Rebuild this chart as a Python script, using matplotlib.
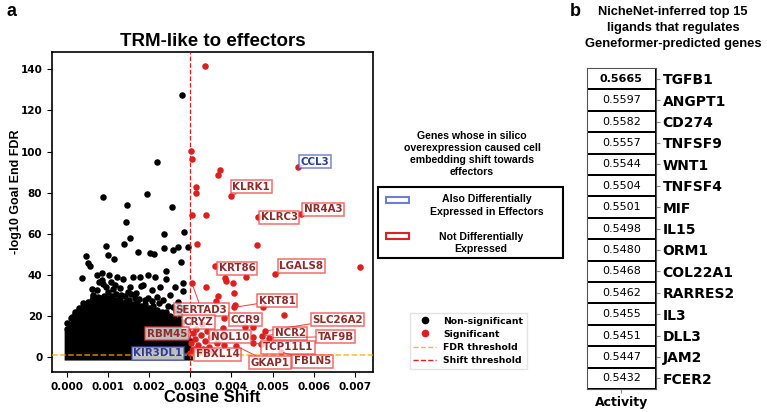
import numpy as np
import matplotlib.pyplot as plt
from matplotlib.patches import Rectangle
from matplotlib.lines import Line2D
from matplotlib.colors import ListedColormap
import seaborn as sns

# ---- panel a: in silico overexpression, TRM-like -> effectors ----
# sparse non-significant genes above the dense cloud
ns_x = [0.00280, 0.00220, 0.00087, 0.00145, 0.00194, 0.00256, 0.00144, 0.00236,
        0.00284, 0.00153, 0.00094, 0.00139, 0.00172, 0.00202, 0.00212, 0.00235,
        0.00257, 0.00271, 0.00295, 0.00100, 0.00115, 0.00278, 0.00241, 0.00085,
        0.00046, 0.00052, 0.00056, 0.00036, 0.00072, 0.00064, 0.00075, 0.00054,
        0.00076, 0.00044, 0.00011, 0.00000, 0.00283, 0.00283, 0.00103, 0.00121,
        0.00137, 0.00079, 0.00161, 0.00178, 0.00198, 0.00214, 0.00226, 0.00241,
        0.00263, 0.00072, 0.00096, 0.00153, 0.00186, 0.00206, 0.00250, 0.00234,
        0.00271, 0.00283, 0.00030, 0.00120, 0.00165, 0.00190, 0.00060, 0.00140,
        0.00088, 0.00108, 0.00128, 0.00148, 0.00168, 0.00218, 0.00064, 0.00112,
        0.00132, 0.00156, 0.00176, 0.00196, 0.00224, 0.00246, 0.00266, 0.00020,
        0.00040, 0.00084, 0.00100, 0.00116, 0.00180, 0.00208, 0.00258, 0.00276]
ns_y = [127.5, 95.1, 77.8, 74.0, 79.4, 73.2, 65.6, 59.9,
        60.8, 58.0, 54.3, 54.9, 51.3, 50.9, 50.4, 53.3,
        52.2, 53.5, 53.8, 49.6, 47.9, 46.5, 42.1, 40.8,
        49.2, 46.0, 44.5, 38.7, 39.9, 29.5, 29.5, 21.9,
        27.0, 24.6, 19.7, 16.5, 36.0, 32.2, 40.0, 39.2,
        37.9, 36.8, 39.2, 38.9, 40.0, 39.2, 34.0, 37.9,
        34.3, 32.7, 34.3, 34.3, 35.1, 32.7, 30.3, 27.9,
        27.0, 23.8, 24.0, 31.0, 29.0, 28.0, 33.0, 30.0,
        35.5, 36.5, 33.5, 32.0, 31.5, 29.5, 30.5, 33.0,
        30.5, 31.0, 28.5, 29.0, 26.5, 25.0, 22.5, 22.0,
        26.5, 37.5, 32.0, 35.0, 34.5, 27.5, 24.5, 20.5]

# top edge of the solid cloud of non-significant genes
cloud_x = [-0.00007, 0.0000, 0.0001, 0.0002, 0.0003, 0.0004, 0.0005, 0.0006, 0.0007,
           0.0008, 0.0009, 0.0010, 0.0011, 0.0012, 0.0013, 0.0014, 0.0015,
           0.0016, 0.0017, 0.0018, 0.0019, 0.0020, 0.0021, 0.0022, 0.0023,
           0.0024, 0.0025, 0.0026, 0.0027, 0.0028, 0.0029, 0.0030, 0.00305]
cloud_top = [13, 14, 19, 21, 23, 25, 27, 28, 27,
             29, 30, 29, 30, 28, 29, 27, 28,
             26, 27, 25, 26, 24, 25, 23, 22,
             22, 20, 19, 18, 17, 14, 8, 0]

# significant genes
sig_x = [0.00335, 0.00301, 0.00305, 0.00372, 0.00367, 0.00315, 0.00314, 0.00399,
         0.00563, 0.00304, 0.00338, 0.00465, 0.00569, 0.00317, 0.00463, 0.00361,
         0.00713, 0.00506, 0.00384, 0.00387, 0.00405, 0.00435, 0.00304, 0.00338,
         0.00406, 0.00367, 0.00363, 0.00409, 0.00406, 0.00476, 0.00527, 0.00383,
         0.00434, 0.00452, 0.00482, 0.00474, 0.00492, 0.00452, 0.00452, 0.00471,
         0.00410, 0.00520, 0.00364, 0.00380, 0.00383, 0.00383, 0.00306, 0.00312,
         0.00318, 0.00325, 0.00330, 0.00336, 0.00341, 0.00309, 0.00322, 0.00345,
         0.00315, 0.00350, 0.00302, 0.00328, 0.00340, 0.00355, 0.00360, 0.00300]
sig_y = [141.5, 100.1, 96.2, 91.1, 88.5, 82.9, 79.7, 78.4,
         92.7, 69.3, 69.0, 68.4, 69.8, 55.3, 54.6, 44.4,
         43.9, 40.3, 38.8, 37.2, 36.3, 38.9, 36.1, 34.3,
         31.4, 29.8, 27.5, 25.4, 24.3, 24.3, 20.4, 19.3,
         14.9, 14.9, 12.8, 10.5, 9.5, 10.0, 7.1, 6.5,
         5.7, 2.7, 6.8, 14.4, 10.8, 5.8, 12.0, 9.0,
         6.0, 11.0, 4.0, 8.0, 13.0, 4.0, 2.5, 5.0,
         14.0, 10.0, 7.0, 16.0, 3.0, 3.0, 12.0, 2.0]

# labelled genes: (gene, shift, -log10 FDR, also DE in effectors)
lab_gene = ['CCL3', 'KLRK1', 'NR4A3', 'KLRC3', 'KRT86', 'LGALS8', 'KRT81', 'SERTAD3',
            'CRYZ', 'CCR9', 'SLC26A2', 'RBM45', 'NOL10', 'NCR2', 'TAF9B', 'TCP11L1',
            'KIR3DL1', 'FBXL14', 'GKAP1', 'FBLN5']
lab_x = [0.00563, 0.00399, 0.00569, 0.00465, 0.00361, 0.00506, 0.00406, 0.00304,
         0.00312, 0.00383, 0.00482, 0.00306, 0.00364, 0.00474, 0.00492, 0.00452,
         0.00300, 0.00330, 0.00410, 0.00520]
lab_y = [92.7, 78.4, 69.8, 68.4, 44.4, 40.3, 24.3, 36.1,
         9.0, 19.3, 12.8, 12.0, 6.8, 10.5, 9.5, 7.1,
         2.0, 4.0, 5.7, 2.7]
lab_de = [True, False, False, False, False, False, False, False,
          False, False, False, False, False, False, False, False,
          True, False, False, False]

# ---- panel b: NicheNet ligand activity ----
ligands = ['TGFB1', 'ANGPT1', 'CD274', 'TNFSF9', 'WNT1', 'TNFSF4', 'MIF', 'IL15',
           'ORM1', 'COL22A1', 'RARRES2', 'IL3', 'DLL3', 'JAM2', 'FCER2']
activity = [0.5665, 0.5597, 0.5582, 0.5557, 0.5544, 0.5504, 0.5501, 0.5498,
            0.5480, 0.5468, 0.5462, 0.5455, 0.5451, 0.5447, 0.5432]

# label text positions (layout only)
label_pos = {
    'CCL3': (0.00603, 95.0), 'KLRK1': (0.00448, 83.0), 'NR4A3': (0.00623, 72.0),
    'KLRC3': (0.00516, 68.0), 'KRT86': (0.00414, 43.4), 'LGALS8': (0.00570, 44.4),
    'KRT81': (0.00511, 27.6), 'SERTAD3': (0.00327, 23.2), 'CRYZ': (0.00320, 17.2),
    'CCR9': (0.00434, 18.4), 'SLC26A2': (0.00658, 18.4), 'RBM45': (0.00243, 11.6),
    'NOL10': (0.00397, 10.1), 'NCR2': (0.00543, 11.8), 'TAF9B': (0.00654, 10.1),
    'TCP11L1': (0.00538, 5.0), 'KIR3DL1': (0.00221, 2.1), 'FBXL14': (0.00367, 1.6),
    'GKAP1': (0.00493, -2.5), 'FBLN5': (0.00597, -1.8),
}

RED = '#dd1f1f'
ARIAL = 'Liberation Sans'

fig = plt.figure(figsize=(7.67, 4.12), dpi=100)
ax = fig.add_axes([0.0678, 0.0971, 0.4185, 0.7767])

ax.fill_between(cloud_x, -1.3, cloud_top, color='black', lw=0, zorder=2)
ax.scatter(cloud_x[1:-1], cloud_top[1:-1], s=22, color='black', lw=0, zorder=2)
ax.scatter(ns_x, ns_y, s=22, color='black', lw=0, zorder=2)
ax.scatter(sig_x, sig_y, s=22, color=RED, lw=0, zorder=3)

ax.axhline(-np.log10(0.05), color='orange', ls='--', lw=1.1, alpha=0.8, zorder=4)
ax.axvline(0.003, color=RED, ls='--', lw=0.9, zorder=4)

for g, x, y, de in zip(lab_gene, lab_x, lab_y, lab_de):
    tx, ty = label_pos[g]
    tcol = '#2b3c9c' if de else '#8e2b2b'
    ecol = '#4a5cc8' if de else '#f03c3c'
    ax.annotate(g, xy=(x, y), xytext=(tx, ty), ha='center', va='center',
                fontsize=7.4, fontweight='bold', color=tcol, zorder=6,
                bbox=dict(boxstyle='square,pad=0.15', fc='white', alpha=0.75,
                          ec=ecol, lw=1.1),
                arrowprops=dict(arrowstyle='-', color=ecol, lw=0.7,
                                shrinkA=0, shrinkB=2))

ax.set_xlim(-0.000365, 0.007445)
ax.set_ylim(-7.1, 148.4)
ax.set_xticks(np.arange(0, 0.0071, 0.001))
ax.set_yticks(np.arange(0, 141, 20))
ax.tick_params(labelsize=7.5)
for t in ax.get_xticklabels() + ax.get_yticklabels():
    t.set_fontweight('bold')
for s in ax.spines.values():
    s.set_linewidth(1.2)
ax.set_title('TRM-like to effectors', fontsize=13.5, fontweight='bold', family=ARIAL, pad=4)
ax.set_xlabel('Cosine Shift', fontsize=12, fontweight='bold', family=ARIAL, labelpad=-1)
ax.set_ylabel('-log10 Goal End FDR', fontsize=9, fontweight='bold', family=ARIAL)
ax.yaxis.set_label_coords(-0.095, 0.5625)

# scatter legend
handles = [
    Line2D([], [], ls='', marker='o', color='black', markersize=4.5),
    Line2D([], [], ls='', marker='o', color=RED, markersize=4.5),
    Line2D([], [], ls='--', color='orange', alpha=0.8, lw=1),
    Line2D([], [], ls='--', color=RED, lw=1),
]
fig.legend(handles, ['Non-significant', 'Significant', 'FDR threshold', 'Shift threshold'],
           loc='upper left', bbox_to_anchor=(0.528, 0.252), frameon=True,
           prop=dict(size=6.7, weight='bold'), handlelength=2.4, borderpad=0.4,
           labelspacing=0.45, edgecolor='#dddddd', fancybox=False)

# label-colour legend (drawn by hand)
W, H = 767.0, 412.0
fig.text(472 / W, 1 - 154 / H, 'Genes whose in silico\noverexpression caused cell\n'
         'embedding shift towards\neffectors', ha='center', va='center',
         fontsize=7.6, fontweight='bold', family=ARIAL, linespacing=1.25)
fig.add_artist(Rectangle((378 / W, 1 - 258 / H), 185 / W, 71 / H, transform=fig.transFigure,
                         fc='white', ec='black', lw=1.5))
fig.add_artist(Rectangle((386 / W, 1 - 203 / H), 23 / W, 6 / H, transform=fig.transFigure,
                         fc='white', ec='#7080d0', lw=1.5))
fig.add_artist(Rectangle((386 / W, 1 - 239 / H), 23 / W, 6 / H, transform=fig.transFigure,
                         fc='white', ec='#e02020', lw=1.5))
fig.text(487 / W, 1 - 205.5 / H, 'Also Differentially\nExpressed in Effectors', ha='center',
         va='center', fontsize=7.6, fontweight='bold', family=ARIAL, linespacing=1.3)
fig.text(481 / W, 1 - 243 / H, 'Not Differentially\nExpressed', ha='center',
         va='center', fontsize=7.6, fontweight='bold', family=ARIAL, linespacing=1.3)

fig.text(6 / W, 1 - 12 / H, 'a', fontsize=13, fontweight='bold', family=ARIAL, va='center')
fig.text(570 / W, 1 - 12 / H, 'b', fontsize=13, fontweight='bold', family=ARIAL, va='center')

# ---- panel b ----
axb = fig.add_axes([0.7653, 0.0558, 0.0896, 0.779])
data = np.array(activity)[:, None]
sns.heatmap(data, ax=axb, cmap=ListedColormap(['white']), cbar=False, annot=True,
            fmt='.4f', linewidths=1.2, linecolor='black',
            annot_kws=dict(fontsize=8, color='black'),
            xticklabels=['Activity'], yticklabels=ligands)
for i, t in enumerate(axb.texts):
    t.set_fontweight('bold' if i == 0 else 'normal')
axb.yaxis.tick_right()
axb.tick_params(axis='y', labelsize=10, rotation=0, length=3, color='#888888', pad=2)
axb.tick_params(axis='x', labelsize=9, length=3, color='#888888', pad=2)
for t in axb.get_yticklabels() + axb.get_xticklabels():
    t.set_fontweight('bold')
for s in axb.spines.values():
    s.set_visible(True)
    s.set_color('#555555')
    s.set_linewidth(0.8)
fig.text(673 / W, 1 - 28 / H, 'NicheNet-inferred top 15\nligands that regulates\n'
         'Geneformer-predicted genes', ha='center', va='center',
         fontsize=9.3, fontweight='bold', family=ARIAL, linespacing=1.4)

fig.savefig('out.png', dpi=100)
